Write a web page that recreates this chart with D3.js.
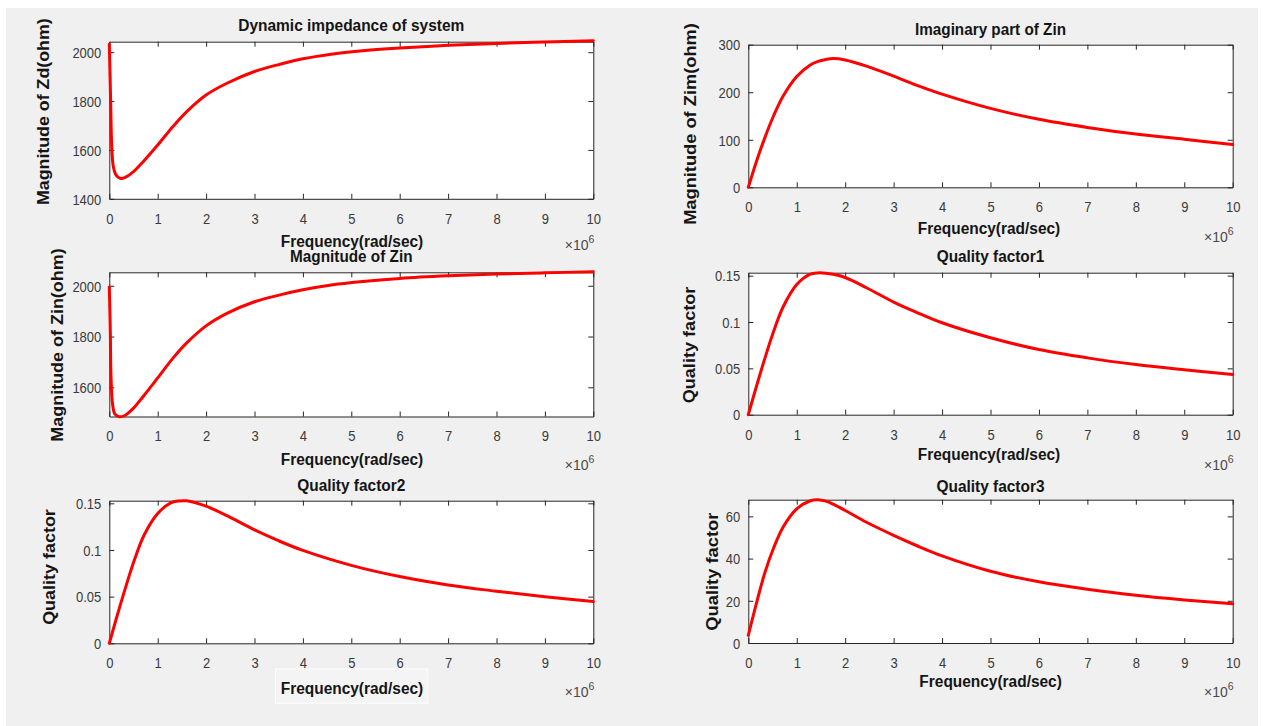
<!DOCTYPE html>
<html>
<head>
<meta charset="utf-8">
<script src="https://cdn.jsdelivr.net/npm/d3@7"></script>
<style>
  html, body { margin: 0; padding: 0; background: #ffffff; }
  svg { display: block; }
  text { font-family: "Liberation Sans", Arial, Helvetica, sans-serif; }
</style>
</head>
<body>
<svg id="fig" width="1269" height="726"></svg>
<script>
// ---- data (frequency in units of 10^6 rad/sec) ----
const freqZd = [0, 0.028, 0.049, 0.083, 0.138, 0.221, 0.32, 0.5, 0.7, 1.0, 1.32, 1.6, 2.0, 2.43, 3.0, 3.53, 4.0, 4.62, 5.18, 6, 7, 8, 9, 10];
const zdMagnitude = [2033, 1798, 1620, 1532, 1498, 1484, 1487, 1511, 1552, 1620, 1697, 1757, 1825, 1873, 1921, 1951, 1973, 1993, 2005, 2017, 2028, 2036, 2042, 2047];

const freqZin = [0, 0.021, 0.034, 0.069, 0.117, 0.207, 0.32, 0.5, 0.7, 1.0, 1.32, 1.6, 2.0, 2.43, 3.0, 3.53, 4.0, 4.62, 5.18, 6, 7, 8, 9, 10];
const zinMagnitude = [1995, 1822, 1650, 1531, 1494, 1484, 1489, 1518, 1564, 1637, 1716, 1775, 1842, 1891, 1937, 1964, 1984, 2004, 2016, 2029, 2039, 2046, 2051, 2055];

const freqGrid = [0, 0.17, 0.34, 0.52, 0.72, 1.0, 1.27, 1.44, 1.6, 1.75, 2.0, 2.44, 3.0, 3.47, 4.0, 5.0, 6.0, 7.0, 8.0, 9.0, 10];
const zinImaginary = [0, 55, 104, 150, 192, 233, 257, 265, 269, 271, 268, 255, 234, 215, 196, 166, 143, 126, 112, 101, 90];
const qualityFactor1 = [0, 0.031, 0.0605, 0.0895, 0.1165, 0.1405, 0.1515, 0.153, 0.1527, 0.1515, 0.148, 0.137, 0.1215, 0.1105, 0.0992, 0.083, 0.0703, 0.0613, 0.0541, 0.0484, 0.0433];
const qualityFactor2 = [0, 0.031, 0.0605, 0.0895, 0.116, 0.139, 0.1505, 0.1525, 0.1527, 0.151, 0.147, 0.1365, 0.1215, 0.1105, 0.0995, 0.0835, 0.0715, 0.0625, 0.0558, 0.0498, 0.0447];
const qualityFactor3 = [3.6, 19, 33.2, 44.9, 55, 63.6, 67.3, 67.9, 67.2, 65.8, 62.8, 57.2, 51, 46.2, 41.3, 34, 29, 25.5, 22.6, 20.4, 18.6];

// ---- tick values ----
const freqTicks = [0, 1, 2, 3, 4, 5, 6, 7, 8, 9, 10];
const zdTicks = [1400, 1600, 1800, 2000];
const zimTicks = [0, 100, 200, 300];
const zinTicks = [1600, 1800, 2000];
const qTicks = [0, 0.05, 0.1, 0.15];
const q3Ticks = [0, 20, 40, 60];

// ---- texts ----
const titles = ["Dynamic impedance of system", "Imaginary part of Zin", "Magnitude of Zin", "Quality factor1", "Quality factor2", "Quality factor3"];
const yLabels = ["Magnitude of Zd(ohm)", "Magnitude of Zim(ohm)", "Magnitude of Zin(ohm)", "Quality factor", "Quality factor", "Quality factor"];
const xLabel = "Frequency(rad/sec)";

// ---- panel layout ----
const L = { l: 109.3, r: 593.3 }, R = { l: 748.3, r: 1232.7 };
const panels = [
  { col: L, t: 41.7, b: 198.8, xs: freqZd, ys: zdMagnitude, dom: [1400, 2043], ticks: zdTicks,
    title: titles[0], titleY: 31, titleLen: 226,
    ylab: yLabels[0], ylabX: 48.5, ylabY: 111.7, ylabLen: 186.7,
    xlabX: 352, xlabY: 246.5, expY: 250 },
  { col: R, t: 44.7, b: 187.3, xs: freqGrid, ys: zinImaginary, dom: [0, 300], ticks: zimTicks,
    title: titles[1], titleY: 35, titleLen: 151,
    ylab: yLabels[1], ylabX: 696, ylabY: 124, ylabLen: 201.7,
    xlabX: 989, xlabY: 233.5, expY: 241.7 },
  { col: L, t: 272.3, b: 416.5, xs: freqZin, ys: zinMagnitude, dom: [1485, 2053], ticks: zinTicks,
    title: titles[2], titleY: 261.5, titleLen: 122.4,
    ylab: yLabels[2], ylabX: 63, ylabY: 345, ylabLen: 193.4,
    xlabX: 352, xlabY: 465, expY: 470 },
  { col: R, t: 272.7, b: 414.7, xs: freqGrid, ys: qualityFactor1, dom: [0, 0.1532], ticks: qTicks,
    title: titles[3], titleY: 262, titleLen: 107.6,
    ylab: yLabels[3], ylabX: 695, ylabY: 345, ylabLen: 116.7,
    xlabX: 989, xlabY: 459.5, expY: 470 },
  { col: L, t: 500.7, b: 643.3, xs: freqGrid, ys: qualityFactor2, dom: [0, 0.1528], ticks: qTicks,
    title: titles[4], titleY: 490.5, titleLen: 108,
    ylab: yLabels[4], ylabX: 55, ylabY: 567, ylabLen: 115.7,
    xlabX: 352, xlabY: 693.5, expY: 697, xlabBox: true },
  { col: R, t: 499.7, b: 643, xs: freqGrid, ys: qualityFactor3, dom: [0, 67.9], ticks: q3Ticks,
    title: titles[5], titleY: 491.5, titleLen: 108,
    ylab: yLabels[5], ylabX: 718, ylabY: 571.7, ylabLen: 118,
    xlabX: 990.6, xlabY: 687, expY: 697 }
];

const svg = d3.select("#fig");
const AX = "#262626", TICKTXT = "#3a3a3a", LABEL = "#151515";
const TICK_LEN = 5, SX = 0.84;

// figure background
svg.append("rect").attr("x", 6).attr("y", 8).attr("width", 1252).attr("height", 718).attr("fill", "#f0f0f0");

function styleAxis(sel) {
  sel.select(".domain").attr("stroke", AX).attr("stroke-width", 1);
  sel.selectAll(".tick line").attr("stroke", AX).attr("stroke-width", 1);
  sel.selectAll(".tick text")
    .attr("fill", TICKTXT)
    .attr("font-size", 15.5)
    .attr("transform", `scale(${SX},1)`);
}

panels.forEach(p => {
  const x = d3.scaleLinear().domain([0, 10]).range([p.col.l, p.col.r]);
  const y = d3.scaleLinear().domain(p.dom).range([p.b, p.t]);
  const g = svg.append("g");

  g.append("rect")
    .attr("x", p.col.l).attr("y", p.t)
    .attr("width", p.col.r - p.col.l).attr("height", p.b - p.t)
    .attr("fill", "#ffffff");

  // bottom axis with labels
  const gb = g.append("g").attr("transform", `translate(0,${p.b})`)
    .call(d3.axisBottom(x).tickValues(freqTicks).tickSizeInner(-TICK_LEN).tickSizeOuter(0).tickPadding(0).tickFormat(d3.format("d")));
  styleAxis(gb);
  gb.selectAll(".tick text").attr("y", 25).attr("dy", null);

  // top axis, ticks only
  const gt = g.append("g").attr("transform", `translate(0,${p.t})`)
    .call(d3.axisTop(x).tickValues(freqTicks).tickSizeInner(-TICK_LEN).tickSizeOuter(0).tickFormat(""));
  styleAxis(gt);

  // left axis with labels
  const gl = g.append("g").attr("transform", `translate(${p.col.l},0)`)
    .call(d3.axisLeft(y).tickValues(p.ticks).tickSizeInner(-TICK_LEN).tickSizeOuter(0).tickPadding(0).tickFormat(d => String(d)));
  styleAxis(gl);
  gl.selectAll(".tick text").attr("x", -8 / SX).attr("dy", "0.34em");

  // right axis, ticks only
  const gr = g.append("g").attr("transform", `translate(${p.col.r},0)`)
    .call(d3.axisRight(y).tickValues(p.ticks).tickSizeInner(-TICK_LEN).tickSizeOuter(0).tickFormat(""));
  styleAxis(gr);

  // the curve
  const line = d3.line().x((d, i) => x(p.xs[i])).y(d => y(d)).curve(d3.curveCatmullRom.alpha(0.5));
  g.append("path").datum(p.ys)
    .attr("d", line)
    .attr("fill", "none")
    .attr("stroke", "#ff0000")
    .attr("stroke-width", 3)
    .attr("stroke-linejoin", "round")
    .attr("stroke-linecap", "round");

  const cx = (p.col.l + p.col.r) / 2;

  // title
  g.append("text")
    .attr("x", cx).attr("y", p.titleY)
    .attr("text-anchor", "middle")
    .attr("font-size", 16).attr("font-weight", "bold").attr("fill", LABEL)
    .attr("textLength", p.titleLen).attr("lengthAdjust", "spacingAndGlyphs")
    .text(p.title);

  // x label (with its framed background on the lower-left panel)
  if (p.xlabBox) {
    g.append("rect")
      .attr("x", 275.5).attr("y", 669).attr("width", 152.3).attr("height", 34.3)
      .attr("fill", "#f4f4f4").attr("stroke", "#fdfdfd").attr("stroke-width", 1);
  }
  g.append("text")
    .attr("x", p.xlabX).attr("y", p.xlabY)
    .attr("text-anchor", "middle")
    .attr("font-size", 16).attr("font-weight", "bold").attr("fill", LABEL)
    .attr("textLength", 142.5).attr("lengthAdjust", "spacingAndGlyphs")
    .text(xLabel);

  // y label
  g.append("text")
    .attr("transform", `translate(${p.ylabX},${p.ylabY}) rotate(-90)`)
    .attr("text-anchor", "middle")
    .attr("font-size", 17).attr("font-weight", "bold").attr("fill", LABEL)
    .attr("textLength", p.ylabLen).attr("lengthAdjust", "spacingAndGlyphs")
    .text(p.ylab);

  // x10^6 exponent marker
  const ex = g.append("text")
    .attr("x", p.col.r + 1).attr("y", p.expY)
    .attr("text-anchor", "end")
    .attr("font-size", 14).attr("fill", "#4a4a4a");
  ex.append("tspan").text("\u00d710");
  ex.append("tspan").attr("dy", -7).attr("font-size", 10.5).text("6");
});
</script>
</body>
</html>
